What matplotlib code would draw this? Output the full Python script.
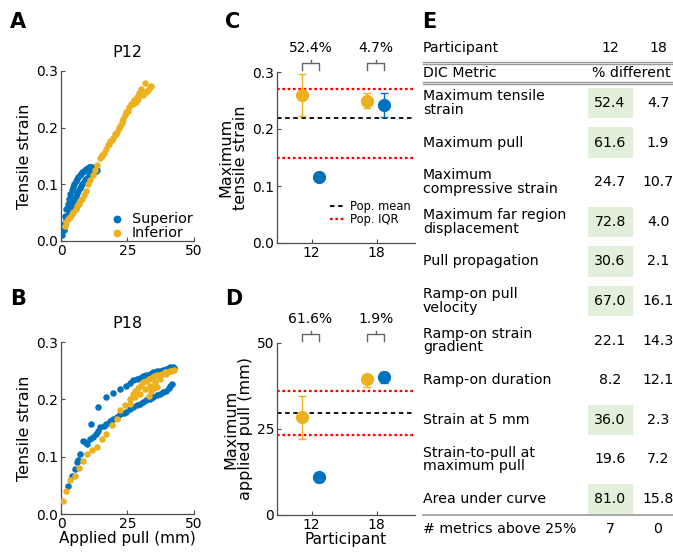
import numpy as np
import matplotlib
matplotlib.use('Agg')
import matplotlib.pyplot as plt
from matplotlib.patches import Rectangle

plt.rcParams['font.family'] = ['DejaVu Sans']
plt.rcParams['font.size'] = 10

blue = '#0072BD'
yellow = '#EDB120'
spine_c = '0.3'
fs_tick = 10
fs_lab = 11
fs_tab = 10.2

# ---- panel A, P12 curves (applied pull mm, tensile strain)
sup12_x = [0.5, 1.0, 1.5, 2.0, 2.5, 3.0, 3.5, 4.0, 4.5, 5.0, 5.5, 6.0, 6.5, 7.0, 7.5, 8.0, 8.5,
           9.0, 9.5, 10.0, 10.5, 11.0, 11.5, 12.0, 13.0, 13.5,
           1.0, 1.5, 2.0, 2.5, 3.0, 3.5, 4.0, 4.5, 5.0, 5.5, 6.0, 6.5, 7.0, 7.5, 8.0, 8.5,
           9.0, 9.5, 10.0, 10.5, 11.0, 11.5]
sup12_y = [0.010, 0.020, 0.030, 0.038, 0.045, 0.052, 0.058, 0.064, 0.070, 0.075, 0.080, 0.085,
           0.089, 0.093, 0.097, 0.100, 0.104, 0.107, 0.110, 0.113, 0.116, 0.118, 0.120, 0.122,
           0.124, 0.125,
           0.030, 0.045, 0.056, 0.066, 0.075, 0.083, 0.090, 0.096, 0.101, 0.106, 0.110, 0.113,
           0.116, 0.119, 0.121, 0.123, 0.125, 0.127, 0.129, 0.130, 0.131, 0.130]
inf12_x = [1.5, 2.75, 4.0, 5.6, 6.75, 7.75, 9.4, 10.25, 12.1, 13.4, 14.6, 16.1, 17.75, 19.6,
           21.1, 22.1, 23.4, 24.6, 26.5, 28.4, 30.25, 31.5,
           2.0, 3.2, 4.6, 6.0, 7.2, 8.6, 11.0, 12.8, 15.3, 18.6, 20.3, 22.8,
           25.25, 27.1, 29.0, 30.9, 32.75, 34.0,
           15.5, 17.0, 18.2, 19.0, 20.6, 21.7, 23.0, 24.0, 25.7, 27.5, 29.3, 28.2, 31.8, 33.3]
inf12_y = [0.027, 0.038, 0.047, 0.056, 0.065, 0.074, 0.089, 0.101, 0.116, 0.134, 0.146, 0.155,
           0.170, 0.182, 0.192, 0.203, 0.215, 0.227, 0.242, 0.254, 0.269, 0.279,
           0.034, 0.042, 0.052, 0.061, 0.070, 0.081, 0.108, 0.125, 0.150, 0.176, 0.188, 0.210,
           0.230, 0.241, 0.250, 0.258, 0.267, 0.274,
           0.151, 0.163, 0.172, 0.178, 0.189, 0.199, 0.208, 0.222, 0.236, 0.248, 0.262, 0.245,
           0.263, 0.271]

# ---- panel B, P18 curves
sup18_x = [2.75, 4.0, 5.25, 5.9, 6.5, 7.1, 8.4, 9.2, 9.9, 11.0, 12.1, 13.0, 14.0, 14.6, 16.0,
           17.1, 18.5, 19.6, 21.0, 22.1, 23.5, 24.6, 26.0, 27.1, 28.5, 29.6, 31.0, 32.1, 33.5,
           34.6, 36.0, 37.1, 38.5, 39.6, 40.5, 41.1, 41.8,
           11.1, 14.0, 16.9, 19.6, 22.0, 24.4, 26.0, 27.1, 28.5, 29.6, 31.0, 32.1, 33.5, 34.6,
           36.0, 37.1, 38.5, 39.6, 40.5, 41.1, 42.0, 42.5]
sup18_y = [0.048, 0.067, 0.079, 0.090, 0.095, 0.105, 0.128, 0.125, 0.122, 0.130, 0.134, 0.140,
           0.145, 0.151, 0.153, 0.157, 0.162, 0.166, 0.170, 0.175, 0.177, 0.178, 0.183, 0.187,
           0.190, 0.192, 0.195, 0.198, 0.201, 0.204, 0.207, 0.210, 0.212, 0.215, 0.219, 0.224,
           0.226,
           0.157, 0.186, 0.204, 0.211, 0.218, 0.224, 0.229, 0.233, 0.235, 0.237, 0.240, 0.242,
           0.245, 0.248, 0.249, 0.250, 0.252, 0.253, 0.254, 0.256, 0.257, 0.255]
inf18_x = [0.9, 1.9, 3.4, 5.25, 6.75, 8.4, 9.9, 11.5, 13.4, 15.25, 17.1, 19.0, 20.9, 22.1, 24.0,
           25.9, 27.8, 29.6, 31.5, 33.4, 35.25, 37.1, 39.6, 41.5, 42.5,
           26.0, 27.0, 28.0, 29.0, 30.0, 31.0, 32.0, 33.0, 34.0, 35.0, 36.0, 37.0, 38.0, 39.0,
           40.0, 41.0, 34.0, 35.0, 36.0, 33.0]
inf18_y = [0.022, 0.040, 0.059, 0.067, 0.081, 0.093, 0.105, 0.111, 0.116, 0.131, 0.140, 0.155,
           0.166, 0.181, 0.190, 0.192, 0.204, 0.210, 0.218, 0.224, 0.230, 0.236, 0.245, 0.250,
           0.252,
           0.200, 0.210, 0.215, 0.220, 0.225, 0.230, 0.232, 0.235, 0.238, 0.240, 0.242, 0.243,
           0.245, 0.247, 0.248, 0.250, 0.215, 0.220, 0.222, 0.205]

# ---- panels C, D summary values
participants = ['12', '18']
strain_inf = [0.260, 0.250]
strain_inf_lo = [0.223, 0.237]
strain_inf_hi = [0.296, 0.263]
strain_sup = [0.116, 0.242]
strain_sup_lo = [0.116, 0.221]
strain_sup_hi = [0.116, 0.263]
strain_mean = 0.220
strain_iqr = [0.150, 0.270]
strain_pct = ['52.4%', '4.7%']

pull_inf = [28.5, 39.4]
pull_inf_lo = [22.2, 37.3]
pull_inf_hi = [34.6, 40.8]
pull_sup = [11.0, 40.2]
pull_sup_lo = [9.7, 38.5]
pull_sup_hi = [12.3, 41.7]
pull_mean = 29.7
pull_iqr = [23.3, 36.1]
pull_pct = ['61.6%', '1.9%']

# ---- panel E table
metrics = ['Maximum tensile\nstrain', 'Maximum pull', 'Maximum\ncompressive strain',
           'Maximum far region\ndisplacement', 'Pull propagation', 'Ramp-on pull\nvelocity',
           'Ramp-on strain\ngradient', 'Ramp-on duration', 'Strain at 5 mm',
           'Strain-to-pull at\nmaximum pull', 'Area under curve']
diff12 = [52.4, 61.6, 24.7, 72.8, 30.6, 67.0, 22.1, 8.2, 36.0, 19.6, 81.0]
diff18 = [4.7, 1.9, 10.7, 4.0, 2.1, 16.1, 14.3, 12.1, 2.3, 7.2, 15.8]


W, H = 673, 554
fig = plt.figure(figsize=(W / 100, H / 100), dpi=100)


def style(ax):
    for s in ['top', 'right']:
        ax.spines[s].set_visible(False)
    for s in ['left', 'bottom']:
        ax.spines[s].set_color(spine_c)
        ax.spines[s].set_linewidth(0.9)
    ax.tick_params(direction='in', length=3, color=spine_c, labelsize=fs_tick, pad=2)


def curve_panel(rect, sx, sy, ix, iy, title, xlabel=None, legend=False):
    ax = fig.add_axes(rect)
    ax.scatter(sx, sy, s=22, color=blue, lw=0, label='Superior', zorder=3)
    ax.scatter(ix, iy, s=22, color=yellow, lw=0, label='Inferior', zorder=3)
    ax.set_xlim(0, 50)
    ax.set_ylim(0, 0.3)
    ax.set_xticks([0, 25, 50])
    ax.set_yticks([0, 0.1, 0.2, 0.3])
    ax.set_yticklabels(['0.0', '0.1', '0.2', '0.3'])
    ax.set_ylabel('Tensile strain', fontsize=11.5, labelpad=3)
    ax.set_title(title, fontsize=11.5, pad=10)
    if xlabel:
        ax.set_xlabel(xlabel, fontsize=fs_lab, labelpad=0)
    if legend:
        ax.legend(loc='lower right', frameon=False, handletextpad=0.0, borderaxespad=0.0,
                  labelspacing=0.0, fontsize=10.4, markerscale=1.2, borderpad=0.1)
    style(ax)
    return ax


def summary_panel(rect, inf, ilo, ihi, sup, slo, shi, mean, iqr, pct, ylim, yticks, yticklabels,
                  ylabel, xlabel=None, legend=False):
    ax = fig.add_axes(rect)
    x = np.arange(len(participants))
    xi = x - 0.15
    xs = x + 0.12
    ax.axhline(mean, color='k', ls=(0, (2.5, 2)), lw=1.3, label='Pop. mean', zorder=1)
    ax.axhline(iqr[0], color='red', ls=(0, (1.2, 1.2)), lw=1.6, label='Pop. IQR', zorder=1)
    ax.axhline(iqr[1], color='red', ls=(0, (1.2, 1.2)), lw=1.6, zorder=1)
    ax.errorbar(xi, inf, yerr=[np.array(inf) - np.array(ilo), np.array(ihi) - np.array(inf)],
                fmt='o', color=yellow, ms=8.5, capsize=3.2, elinewidth=1, capthick=1, zorder=3)
    ax.errorbar(xs, sup, yerr=[np.array(sup) - np.array(slo), np.array(shi) - np.array(sup)],
                fmt='o', color=blue, ms=8.5, capsize=3.2, elinewidth=1, capthick=1, zorder=3)
    ax.set_xlim(-0.53, 1.59)
    ax.set_xticks(x)
    ax.set_xticklabels(participants)
    ax.set_ylim(*ylim)
    ax.set_yticks(yticks)
    ax.set_yticklabels(yticklabels)
    ax.set_ylabel(ylabel, fontsize=11.5, linespacing=0.95, labelpad=3)
    if xlabel:
        ax.set_xlabel(xlabel, fontsize=fs_lab, labelpad=0)
    if legend:
        ax.legend(loc='lower right', bbox_to_anchor=(1.0, 0.07), frameon=False, fontsize=8.3,
                  handlelength=1.3, handletextpad=0.4, labelspacing=0.05, borderaxespad=0)
    # brackets with percent difference
    tr = ax.get_xaxis_transform()
    for i in range(len(participants)):
        ax.plot([xi[i], xi[i], xs[i], xs[i]], [1.012, 1.05, 1.05, 1.012], color='0.4', lw=1,
                transform=tr, clip_on=False)
        mid = (xi[i] + xs[i]) / 2
        ax.plot([mid, mid], [1.05, 1.07], color='0.4', lw=1, transform=tr, clip_on=False)
        ax.text(mid, 1.14, pct[i], transform=tr, ha='center', va='center', fontsize=10)
    style(ax)
    return ax


curve_panel([61 / W, 1 - 241 / H, 133 / W, 170 / H], sup12_x, sup12_y, inf12_x, inf12_y,
            'P12', legend=True)
curve_panel([61 / W, 1 - 514 / H, 133 / W, 172 / H], sup18_x, sup18_y, inf18_x, inf18_y,
            'P18', xlabel='Applied pull (mm)')
summary_panel([277 / W, 1 - 243 / H, 138 / W, 171 / H], strain_inf, strain_inf_lo, strain_inf_hi,
              strain_sup, strain_sup_lo, strain_sup_hi, strain_mean, strain_iqr, strain_pct,
              (0, 0.3), [0, 0.1, 0.2, 0.3], ['0.0', '0.1', '0.2', '0.3'],
              'Maximum\ntensile strain', legend=True)
summary_panel([277 / W, 1 - 515 / H, 138 / W, 172 / H], pull_inf, pull_inf_lo, pull_inf_hi,
              pull_sup, pull_sup_lo, pull_sup_hi, pull_mean, pull_iqr, pull_pct,
              (0, 50), [0, 25, 50], ['0', '25', '50'],
              'Maximum\napplied pull (mm)', xlabel='Participant')

# ---- overlay in pixel coords for letters and table
ov = fig.add_axes([0, 0, 1, 1], facecolor='none')
ov.set_xlim(0, W)
ov.set_ylim(H, 0)
ov.axis('off')

for lab, (lx, ly) in zip('ABCDE', [(10, 22), (10, 299), (225, 22), (225, 299), (422, 22)]):
    ov.text(lx, ly, lab, fontsize=15, fontweight='bold', va='center', ha='left')

tx = 423
c12, c18 = 610, 658
ov.text(tx, 48, 'Participant', va='center', fontsize=fs_tab)
ov.text(c12, 48, '12', va='center', ha='center', fontsize=fs_tab)
ov.text(c18, 48, '18', va='center', ha='center', fontsize=fs_tab)
ov.text(tx, 73, 'DIC Metric', va='center', fontsize=fs_tab)
ov.text(671, 73, '% different', va='center', ha='right', fontsize=fs_tab)
for yy in [61.5, 63.8, 82, 84.3]:
    ov.plot([tx, W], [yy, yy], color='0.6', lw=1.0)

y0, dy = 103, 39.6
for i, m in enumerate(metrics):
    yc = y0 + i * dy
    ov.text(tx, yc, m, va='center', ha='left', fontsize=fs_tab, linespacing=0.95)
    if diff12[i] > 25:
        ov.add_patch(Rectangle((588, yc - 15.3), 45, 30.6, facecolor='#E2EFDA', edgecolor='none'))
    if diff18[i] > 25:
        ov.add_patch(Rectangle((636, yc - 15.3), 45, 30.6, facecolor='#E2EFDA', edgecolor='none'))
    ov.text(c12, yc, '%.1f' % diff12[i], va='center', ha='center', fontsize=fs_tab)
    ov.text(c18, yc, '%.1f' % diff18[i], va='center', ha='center', fontsize=fs_tab)

ov.plot([tx, W], [515, 515], color='0.6', lw=1.2)
n12 = sum(1 for v in diff12 if v > 25)
n18 = sum(1 for v in diff18 if v > 25)
ov.text(tx, 529, '# metrics above 25%', va='center', fontsize=fs_tab)
ov.text(c12, 529, str(n12), va='center', ha='center', fontsize=fs_tab)
ov.text(c18, 529, str(n18), va='center', ha='center', fontsize=fs_tab)

fig.savefig('out.png', dpi=100)
